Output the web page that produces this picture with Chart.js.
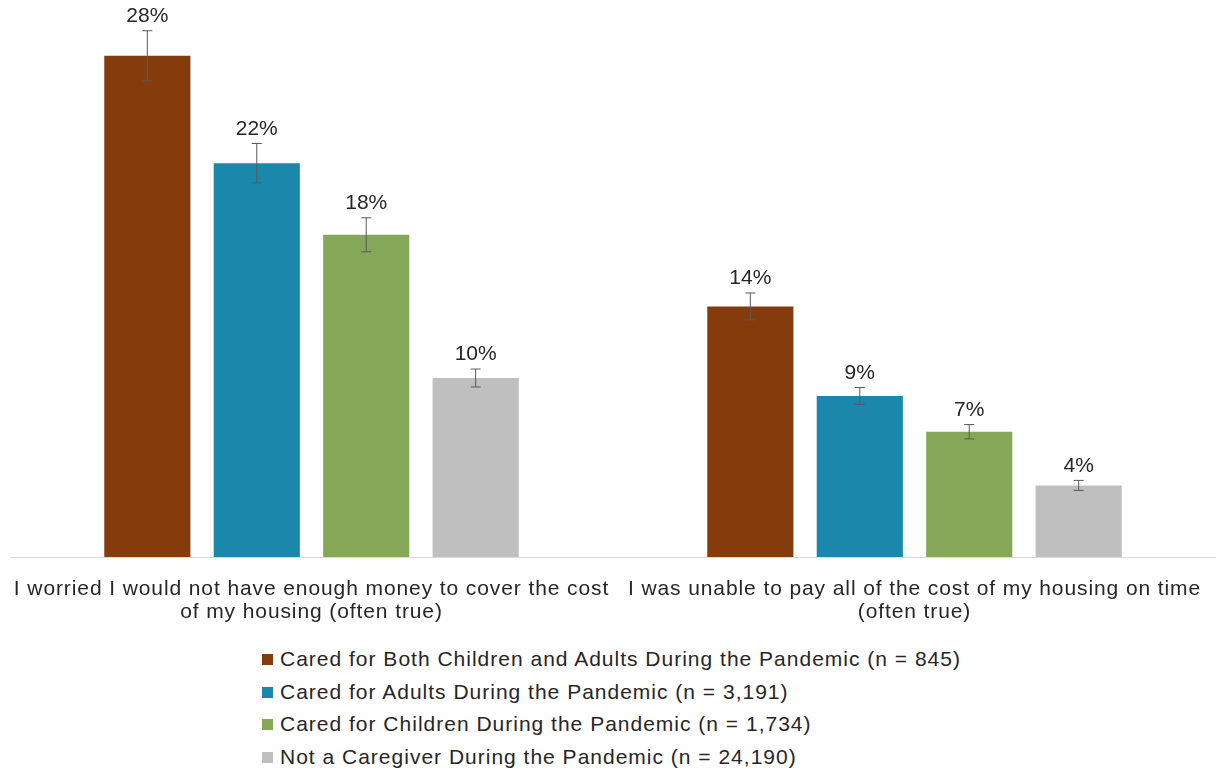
<!DOCTYPE html>
<html>
<head>
<meta charset="utf-8">
<script src="https://cdn.jsdelivr.net/npm/chart.js@4"></script>
<style>
    body { margin: 0; background: #fff; font-family: "Liberation Sans", Arial, sans-serif; }
    #wrap { position: relative; width: 1216px; height: 778px; }
    #chart { position: absolute; left: 0; top: 0; }
    #legend { position: absolute; left: 262px; top: 645px; color: #262626; font-size: 21px; letter-spacing: 1px; }
    #legend div { height: 32.5px; line-height: 28px; white-space: nowrap; }
    #legend span { display: inline-block; width: 11px; height: 11px; margin-right: 7px; vertical-align: 1px; }
</style>
</head>
<body>
<div id="wrap">
    <canvas id="chart" width="1216" height="637"></canvas>
    <div id="legend"></div>
</div>
<script>
const categories = [
    ['I worried I would not have enough money to cover the cost', 'of my housing (often true)'],
    ['I was unable to pay all of the cost of my housing on time', '(often true)']
];
const seriesNames = [
    'Cared for Both Children and Adults During the Pandemic (n = 845)',
    'Cared for Adults During the Pandemic (n = 3,191)',
    'Cared for Children During the Pandemic (n = 1,734)',
    'Not a Caregiver During the Pandemic (n = 24,190)'
];
const bothValues = [28, 14];
const adultsValues = [22, 9];
const childrenValues = [18, 7];
const noneValues = [10, 4];
// half-width of the error bars, in percent
const bothErr = [1.4, 0.75];
const adultsErr = [1.1, 0.47];
const childrenErr = [0.95, 0.4];
const noneErr = [0.5, 0.28];
const colors = ['#843c0c', '#1a87ab', '#84a858', '#bfbfbf'];

const values = [bothValues, adultsValues, childrenValues, noneValues];
const errors = [bothErr, adultsErr, childrenErr, noneErr];
const fontFamily = '"Liberation Sans", Arial, sans-serif';

// the reference's axis labels are set a bit loose;
// has to be set every draw since resizing the canvas resets the context
const looseText = {
    id: 'looseText',
    beforeDraw(chart) {
        chart.ctx.letterSpacing = '0.9px';
    }
};

const errorBars = {
    id: 'errorBars',
    afterDatasetsDraw(chart) {
        const ctx = chart.ctx;
        const y = chart.scales.y;
        ctx.save();
        ctx.letterSpacing = '0px';
        chart.data.datasets.forEach((ds, i) => {
            const meta = chart.getDatasetMeta(i);
            meta.data.forEach((bar, j) => {
                const v = ds.data[j];
                const e = errors[i][j];
                const top = y.getPixelForValue(v + e);
                const bot = y.getPixelForValue(v - e);
                ctx.strokeStyle = '#595959';
                ctx.lineWidth = 1;
                ctx.beginPath();
                ctx.moveTo(bar.x, top);
                ctx.lineTo(bar.x, bot);
                ctx.moveTo(bar.x - 5, top);
                ctx.lineTo(bar.x + 5, top);
                ctx.moveTo(bar.x - 5, bot);
                ctx.lineTo(bar.x + 5, bot);
                ctx.stroke();
                ctx.fillStyle = '#262626';
                ctx.font = '21px ' + fontFamily;
                ctx.textAlign = 'center';
                ctx.textBaseline = 'bottom';
                ctx.fillText(v + '%', bar.x, top - 4);
            });
        });
        ctx.restore();
    }
};

const ctx = document.getElementById('chart').getContext('2d');
const chart = new Chart(ctx, {
    type: 'bar',
    data: {
        labels: categories,
        datasets: seriesNames.map((name, i) => ({
            label: name,
            data: values[i],
            backgroundColor: colors[i],
            categoryPercentage: 0.726,
            barPercentage: 0.787
        }))
    },
    options: {
        responsive: false,
        animation: false,
        layout: { padding: { top: 20, left: 10, right: 0, bottom: 0 } },
        plugins: {
            legend: { display: false },
            tooltip: { enabled: false }
        },
        scales: {
            x: {
                grid: { display: false },
                border: { display: true, color: '#d9d9d9', width: 1 },
                ticks: {
                    color: '#262626',
                    font: { family: fontFamily, size: 21, lineHeight: 1.095 },
                    padding: 13,
                    maxRotation: 0,
                    autoSkip: false
                }
            },
            y: {
                display: false,
                min: 0,
                max: 30
            }
        }
    },
    plugins: [looseText, errorBars]
});

const legend = document.getElementById('legend');
seriesNames.forEach((name, i) => {
    const row = document.createElement('div');
    const box = document.createElement('span');
    box.style.background = colors[i];
    row.append(box, name);
    legend.append(row);
});
</script>
</body>
</html>
